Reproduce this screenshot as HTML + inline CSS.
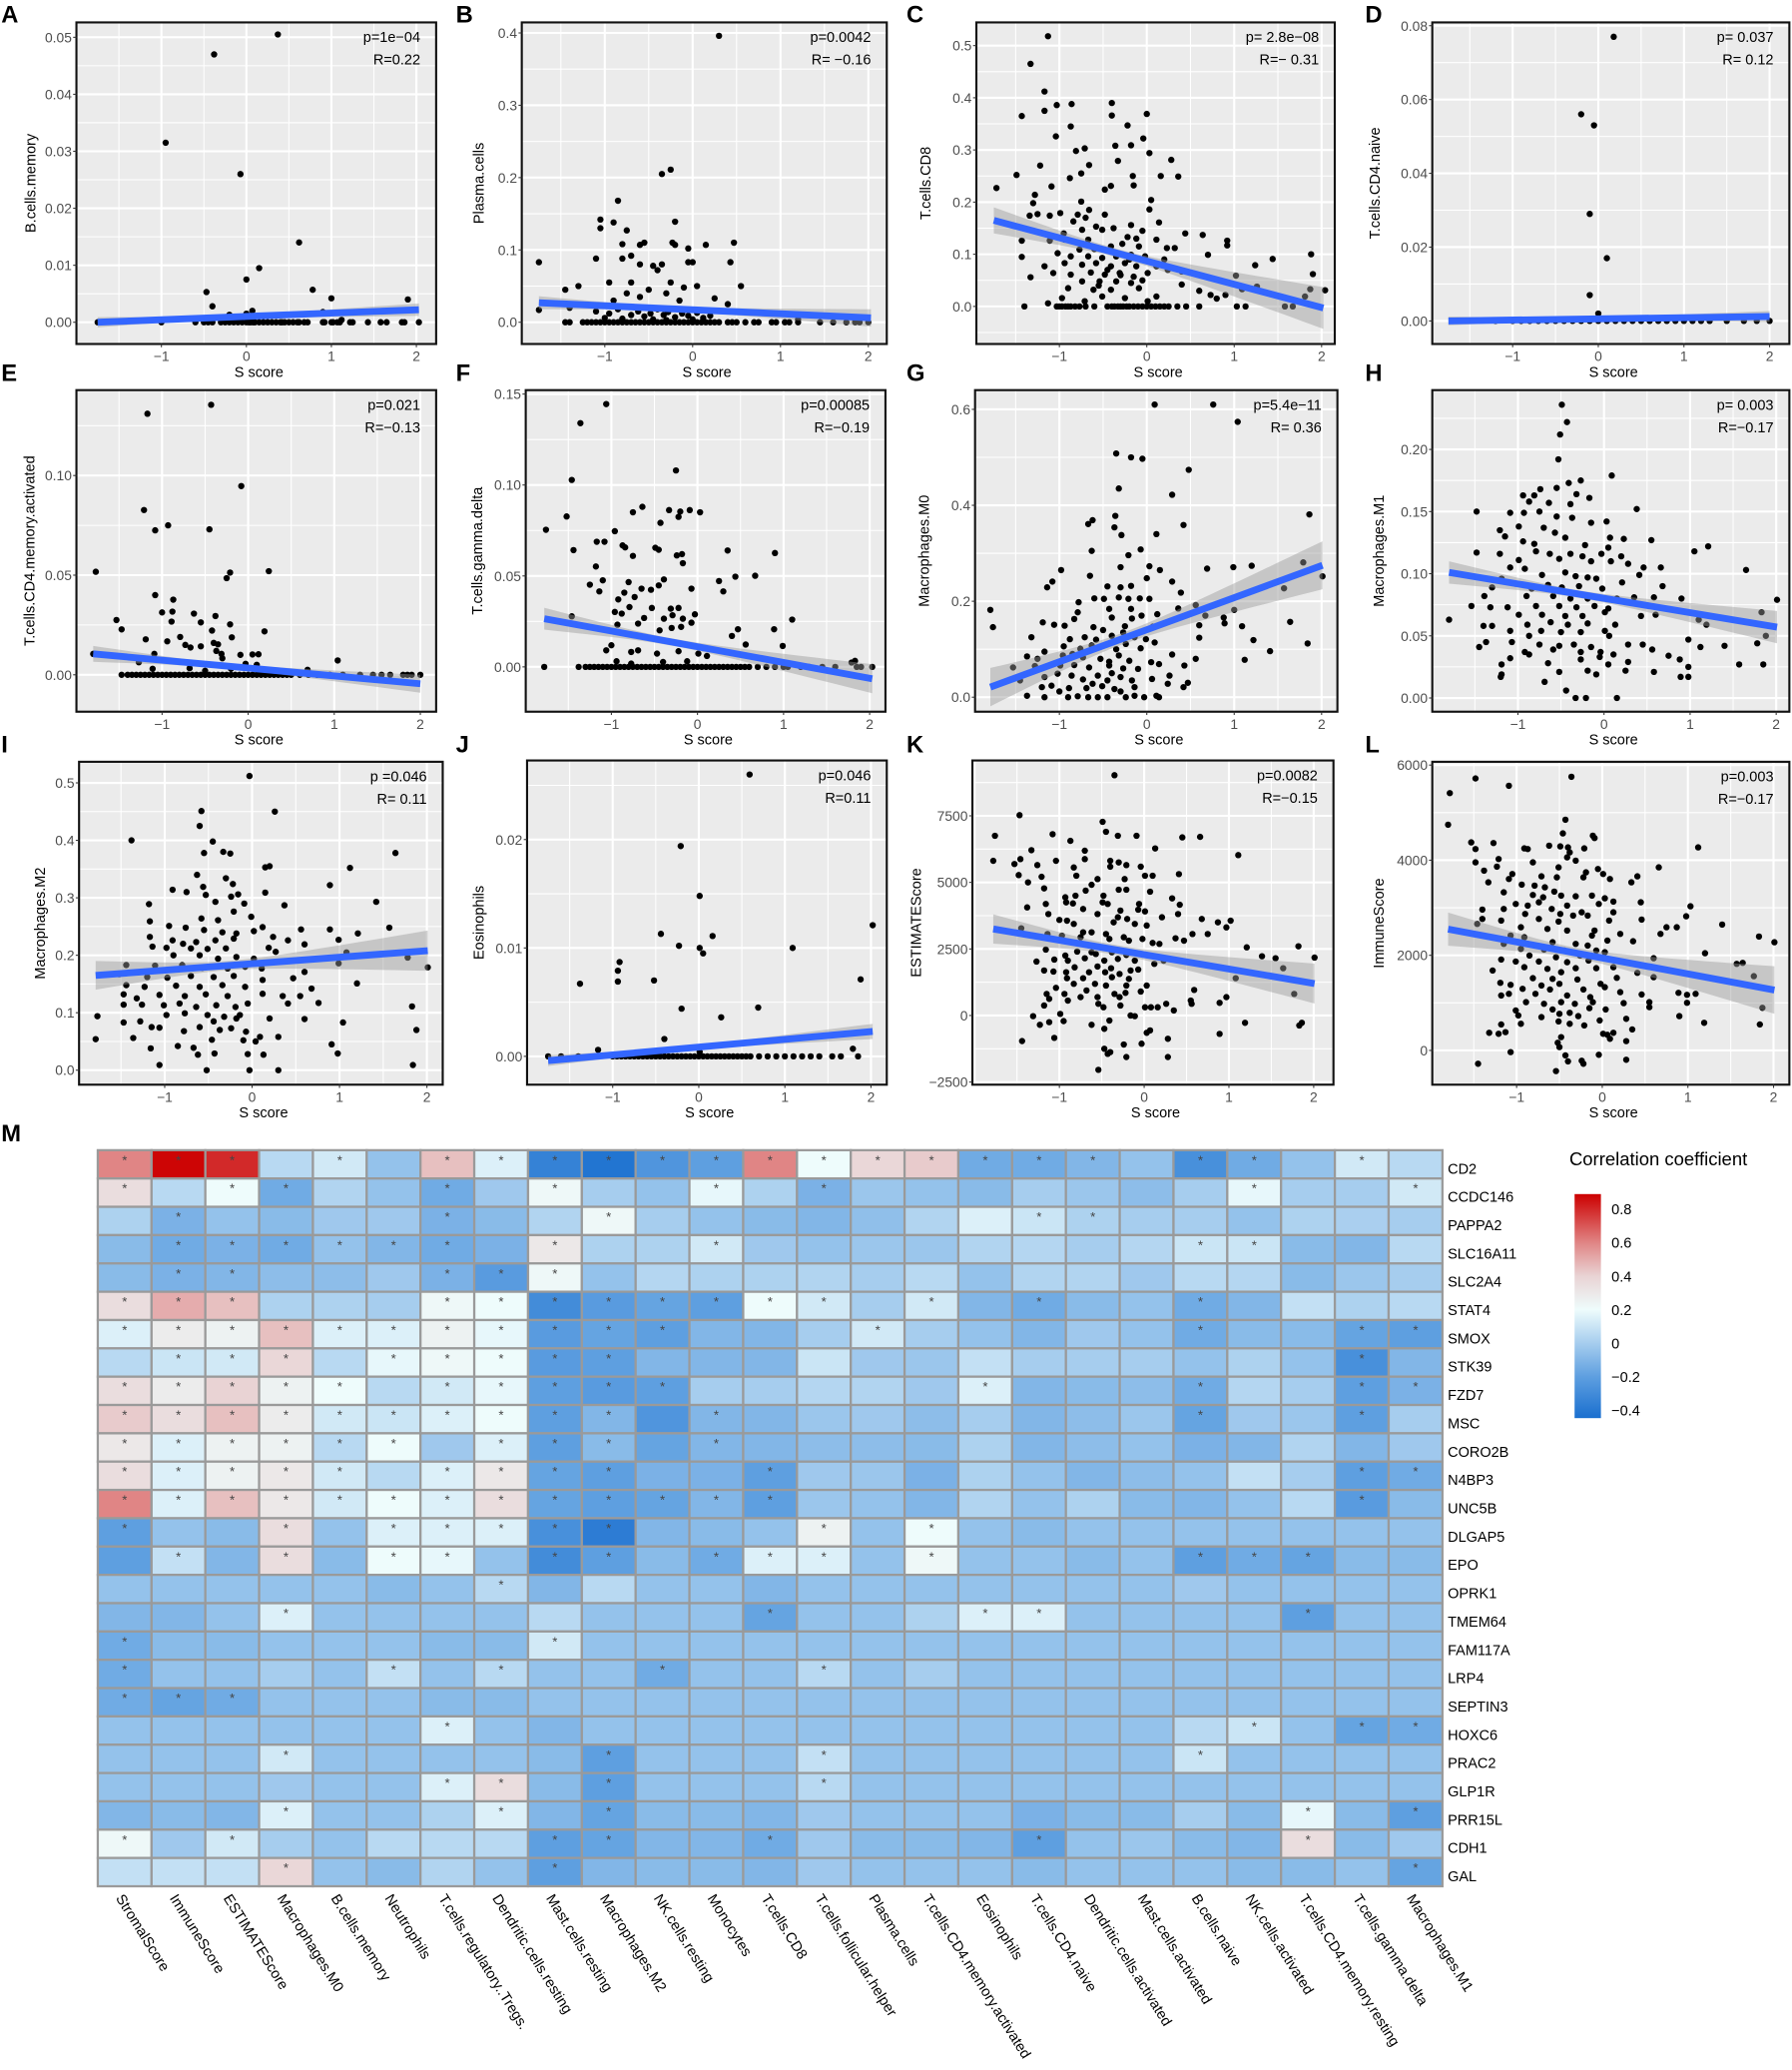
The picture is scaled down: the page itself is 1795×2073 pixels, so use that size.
<!DOCTYPE html>
<html><head><meta charset="utf-8">
<style>
html,body{margin:0;padding:0;background:#fff;}
svg{display:block;font-family:"Liberation Sans",Arial,sans-serif;}
</style></head>
<body>
<svg id="fig" xmlns="http://www.w3.org/2000/svg" width="1795" height="2073" viewBox="0 0 1360 1570.6" preserveAspectRatio="none"></svg>
<script>
// ---------------- DATA ----------------
const xTickVals=[-1,0,1,2];
const xTickLabels=['\u22121','0','1','2'];

const aTicks=[0,0.01,0.02,0.03,0.04,0.05];
const aTickLabels=['0.00','0.01','0.02','0.03','0.04','0.05'];
const aPts=[[-0.95,0.0315],[-0.38,0.047],[0.37,0.0505],[-0.07,0.026],[0.62,0.014],[0.15,0.0095],[0,0.0075],[-0.47,0.0053],[0.78,0.0057],[1.0,0.0042],[1.9,0.004],[-0.4,0.0028],[0.07,0.002],[-0.2,0.0013],[0,0.0015],[0.9,0.0018],[1.12,0.0004]];
const aZeros=[-1.75,-1.0,-0.6,-0.5,-0.45,-0.4,-0.3,-0.25,-0.2,-0.15,-0.1,-0.05,0,0.03,0.05,0.08,0.1,0.15,0.2,0.25,0.3,0.35,0.4,0.42,0.45,0.5,0.55,0.6,0.62,0.68,0.72,0.9,0.92,1.0,1.02,1.07,1.1,1.22,1.25,1.43,1.58,1.65,1.83,1.86,2.03];
const aFit=[-1.75,0,2.03,0.0022];
const aCI=[0.0009,0.0003,0.0011];

const bTicks=[0,0.1,0.2,0.3,0.4];
const bTickLabels=['0.0','0.1','0.2','0.3','0.4'];
const bPts=[[0.3,0.396],[-0.25,0.211],[-0.35,0.205],[-0.85,0.168],[-1.05,0.142],[-1.05,0.13],[-0.9,0.138],[-0.75,0.127],[-0.2,0.139],[-0.8,0.108],[-0.6,0.107],[-0.55,0.11],[-0.23,0.11],[-0.2,0.107],[-0.05,0.102],[0.15,0.107],[0.47,0.11],[-1.1,0.088],[-0.8,0.088],[-0.7,0.092],[-0.6,0.08],[-0.45,0.078],[-0.4,0.072],[-0.35,0.08],[-0.05,0.083],[0,0.083],[0.43,0.083],[-1.75,0.083],[-1.45,0.045],[-1.3,0.05],[-0.95,0.055],[-0.7,0.055],[-0.5,0.045],[-0.25,0.055],[-0.1,0.048],[0.05,0.05],[0.55,0.05],[-0.75,0.04],[-0.9,0.03],[-0.6,0.035],[-0.3,0.04],[-0.15,0.03],[0.4,0.025],[0.25,0.033],[-1.4,0.02],[-1.75,0.017],[-1.1,0.015],[-0.95,0.012],[-0.85,0.018],[-0.7,0.01],[-0.62,0.015],[-0.55,0.008],[-0.48,0.012],[-0.4,0.018],[-0.33,0.01],[-0.28,0.014],[-0.2,0.007],[-0.12,0.012],[-0.05,0.009],[0.05,0.013],[0.12,0.006],[0.2,0.009],[-1.0,0.006],[-0.8,0.005],[-0.45,0.004],[-0.3,0.003],[0.0,0.004],[1.2,0.004],[1.85,0.004]];
const bZeros=[-1.45,-1.4,-1.25,-1.2,-1.15,-1.1,-1.05,-1.0,-0.95,-0.9,-0.85,-0.8,-0.75,-0.7,-0.65,-0.6,-0.55,-0.5,-0.45,-0.4,-0.35,-0.3,-0.25,-0.2,-0.15,-0.1,-0.05,0,0.05,0.1,0.15,0.2,0.25,0.3,0.4,0.45,0.5,0.6,0.7,0.75,0.9,0.95,1.05,1.1,1.2,1.45,1.6,1.75,1.85,1.9,2.0];
const bFit=[-1.75,0.027,2.03,0.006];
const bCI=[0.009,0.003,0.012];

const cTicks=[0,0.1,0.2,0.3,0.4,0.5];
const cTickLabels=['0.0','0.1','0.2','0.3','0.4','0.5'];
const cPts=[[-1.13,0.518],[-1.33,0.465],[-1.17,0.412],[-1.43,0.365],[-1.17,0.375],[-1.03,0.386],[-0.86,0.388],[-0.4,0.39],[-0.4,0.366],[0,0.369],[-0.87,0.345],[-0.22,0.347],[-1.04,0.326],[-0.04,0.322],[-0.71,0.303],[-0.36,0.308],[-0.18,0.309],[-0.81,0.298],[0.03,0.294],[-0.33,0.279],[0.28,0.281],[-1.22,0.27],[-0.66,0.271],[-1.49,0.252],[-0.75,0.255],[-0.16,0.25],[0.16,0.25],[0.36,0.249],[-0.88,0.246],[-1.72,0.227],[-1.09,0.23],[-0.41,0.231],[-0.48,0.224],[-0.15,0.232],[-1.28,0.214],[-1.3,0.198],[-0.75,0.201],[0.05,0.204],[0.03,0.186],[-0.99,0.179],[-0.79,0.176],[-0.66,0.185],[-0.48,0.176],[-1.25,0.177],[-1.34,0.174],[-1.11,0.174],[-0.18,0.156],[0.14,0.161],[-0.84,0.163],[-0.58,0.153],[-0.74,0.147],[-0.51,0.147],[-0.38,0.15],[-0.05,0.145],[0.44,0.14],[0.64,0.137],[0.92,0.126],[-1.43,0.126],[-1.11,0.126],[-0.94,0.128],[-0.67,0.128],[-0.22,0.133],[0.11,0.128],[0.23,0.112],[0.32,0.112],[0.92,0.117],[-0.41,0.115],[-0.09,0.115],[-0.77,0.109],[-0.58,0.112],[-1.02,0.102],[-0.87,0.096],[-0.67,0.096],[-0.51,0.093],[-0.35,0.096],[-0.18,0.099],[-0.02,0.096],[0.7,0.099],[1.44,0.091],[1.88,0.1],[-1.43,0.095],[-0.94,0.083],[-0.74,0.08],[-0.58,0.083],[-0.41,0.077],[-0.25,0.083],[-0.12,0.077],[0.11,0.077],[1.24,0.079],[-1.17,0.077],[0.24,0.07],[-1.07,0.064],[-0.87,0.061],[-0.64,0.065],[-0.48,0.061],[-0.31,0.064],[-0.15,0.057],[0.01,0.064],[0.4,0.067],[1.02,0.059],[1.9,0.062],[-1.33,0.056],[-0.74,0.048],[-0.54,0.048],[-0.35,0.048],[-0.18,0.045],[0.4,0.042],[1.26,0.038],[-0.9,0.035],[-0.61,0.032],[-0.41,0.032],[-0.09,0.035],[0.6,0.03],[1.09,0.033],[2.04,0.031],[1.87,0.033],[0.73,0.022],[0.9,0.022],[1.81,0.019],[-0.97,0.016],[-0.51,0.019],[-0.25,0.016],[0.11,0.019],[0.8,0.015],[-1.13,0.006],[-0.71,0.01],[0.01,0.01],[-0.45,0.07],[-0.3,0.06],[-0.2,0.09],[-0.6,0.11],[-0.95,0.14],[-0.7,0.17],[-0.28,0.12],[-0.12,0.13],[-0.55,0.04],[-0.05,0.05],[0.2,0.09]];
const cZeros=[-1.4,-1.03,-1.0,-0.97,-0.93,-0.9,-0.87,-0.82,-0.77,-0.7,-0.6,-0.45,-0.4,-0.37,-0.33,-0.3,-0.27,-0.23,-0.2,-0.15,-0.1,-0.05,0,0.05,0.1,0.15,0.2,0.25,0.35,0.45,0.6,1.03,1.13,1.58,1.67];
const cFit=[-1.75,0.165,2.02,-0.003];
const cCI=[0.025,0.008,0.04];

const dTicks=[0,0.02,0.04,0.06,0.08];
const dTickLabels=['0.00','0.02','0.04','0.06','0.08'];
const dPts=[[0.18,0.077],[-0.2,0.056],[-0.05,0.053],[-0.1,0.029],[0.1,0.017],[-0.1,0.007],[0.0,0.002]];
const dZeros=[-1.7,-1.5,-1.2,-1.0,-0.9,-0.8,-0.7,-0.6,-0.5,-0.4,-0.3,-0.2,-0.1,0,0.1,0.2,0.3,0.4,0.5,0.6,0.7,0.8,0.9,1.0,1.1,1.2,1.3,1.5,1.7,1.85,2.0];
const dFit=[-1.75,0,2.0,0.0012];
const dCI=[0.0012,0.0004,0.0015];

const eTicks=[0,0.05,0.10];
const eTickLabels=['0.00','0.05','0.10'];
const ePts=[[-1.17,0.131],[-0.43,0.1355],[-0.08,0.0947],[-1.21,0.0827],[-0.93,0.075],[-1.08,0.0725],[-0.45,0.073],[-1.77,0.0517],[-0.21,0.0513],[0.24,0.052],[-0.25,0.0485],[-1.08,0.04],[-0.87,0.0377],[-1.0,0.0313],[-0.88,0.0317],[-0.63,0.0307],[-0.38,0.0295],[-1.53,0.0275],[-0.89,0.0267],[-0.55,0.0263],[-0.21,0.0253],[-1.47,0.0228],[-0.42,0.0222],[0.19,0.0218],[-1.19,0.0178],[-0.79,0.019],[-0.19,0.0188],[-0.94,0.0168],[-0.73,0.015],[-0.4,0.016],[-0.35,0.0153],[-0.55,0.0143],[-0.67,0.0137],[-0.37,0.012],[-1.09,0.0105],[-0.31,0.0105],[-0.09,0.01],[0.05,0.0102],[0.12,0.0103],[1.04,0.0072],[-1.27,0.0063],[-1.8,0.0105],[-0.3,0.0083],[-0.03,0.0055],[0.1,0.005],[-0.68,0.0033],[-1.11,0.003],[0.69,0.0025],[-0.5,0.002],[-0.2,0.003]];
const eZeros=[-1.47,-1.4,-1.35,-1.3,-1.25,-1.2,-1.15,-1.1,-1.05,-1.0,-0.95,-0.9,-0.85,-0.8,-0.75,-0.7,-0.65,-0.6,-0.55,-0.5,-0.45,-0.4,-0.35,-0.3,-0.25,-0.2,-0.15,-0.1,-0.05,0,0.05,0.1,0.15,0.2,0.25,0.3,0.35,0.4,0.45,0.5,0.6,0.7,0.8,0.95,1.1,1.3,1.45,1.55,1.65,1.8,1.85,1.9,2.0];
const eFit=[-1.8,0.0105,2.0,-0.0045];
const eCI=[0.004,0.0012,0.0045];

const fTicks=[0,0.05,0.10,0.15];
const fTickLabels=['0.00','0.05','0.10','0.15'];
const fPts=[[-1.06,0.1445],[-1.36,0.134],[-1.46,0.1028],[-0.25,0.108],[-1.76,0.0754],[-1.52,0.0827],[-0.96,0.0746],[-1.44,0.0642],[-1.17,0.0688],[-1.08,0.0688],[-0.87,0.0668],[-0.84,0.0657],[-0.75,0.085],[-0.64,0.088],[-0.75,0.061],[-0.49,0.0655],[-0.45,0.0644],[-0.33,0.0862],[-0.43,0.0792],[-0.22,0.0825],[-0.2,0.0854],[-0.09,0.0862],[0.03,0.085],[-0.24,0.0613],[-0.18,0.062],[-0.17,0.057],[0.35,0.064],[0.9,0.0626],[0.67,0.0501],[0.44,0.0496],[0.25,0.0472],[0.3,0.0415],[-1.18,0.0552],[-1.25,0.0452],[-1.14,0.0415],[-1.1,0.0476],[-0.8,0.0466],[-0.92,0.0371],[-0.85,0.0408],[-0.73,0.0384],[-0.65,0.043],[-0.54,0.0424],[-0.45,0.0448],[-0.39,0.0481],[-0.07,0.043],[-0.79,0.0329],[-0.53,0.0324],[-0.31,0.032],[-0.22,0.0324],[-0.96,0.0302],[-0.88,0.0293],[-0.62,0.0269],[-0.39,0.0265],[-0.29,0.0284],[-0.17,0.0265],[-0.03,0.0289],[-1.46,0.0278],[-0.93,0.0232],[-0.69,0.0238],[-0.44,0.0201],[-0.3,0.0214],[-0.19,0.022],[-0.07,0.0243],[0.47,0.0207],[0.4,0.017],[0.89,0.0207],[1.1,0.026],[0.56,0.0123],[0.99,0.0115],[-1.0,0.0119],[-1.06,0.0091],[-0.77,0.0082],[-0.69,0.0091],[-0.47,0.0073],[-0.22,0.0086],[0.01,0.0073],[0.11,0.006],[-0.94,0.0031],[-0.77,0.0018],[-0.4,0.0027],[-0.12,0.0031],[1.83,0.0033],[1.79,0.0024]];
const fZeros=[-1.78,-1.38,-1.3,-1.25,-1.2,-1.15,-1.1,-1.05,-1.0,-0.95,-0.9,-0.85,-0.8,-0.75,-0.7,-0.65,-0.6,-0.55,-0.5,-0.45,-0.4,-0.35,-0.3,-0.25,-0.2,-0.15,-0.1,-0.05,0,0.05,0.1,0.15,0.2,0.25,0.3,0.35,0.4,0.45,0.5,0.55,0.6,0.7,0.8,0.9,1.0,1.05,1.2,1.3,1.45,1.6,1.85,1.9,2.03];
const fFit=[-1.78,0.0265,2.03,-0.0065];
const fCI=[0.006,0.002,0.008];

const gTicks=[0,0.2,0.4,0.6];
const gTickLabels=['0.0','0.2','0.4','0.6'];
const gPts=[[0.09,0.61],[0.76,0.61],[1.04,0.574],[-0.35,0.508],[-0.18,0.5],[-0.05,0.497],[0.48,0.474],[-0.32,0.435],[0.29,0.422],[1.86,0.381],[-0.36,0.378],[-0.62,0.369],[-0.67,0.361],[-0.37,0.354],[0.42,0.359],[0.11,0.34],[-0.29,0.338],[-0.63,0.305],[-0.07,0.308],[-0.21,0.296],[-0.98,0.265],[-0.3,0.271],[0.03,0.273],[0.15,0.265],[0.69,0.268],[0.99,0.271],[1.2,0.274],[1.79,0.281],[2.01,0.252],[-1.08,0.241],[-0.65,0.253],[0,0.248],[0.29,0.241],[-1.14,0.229],[-0.45,0.231],[-0.3,0.229],[-0.18,0.232],[0.39,0.218],[1.57,0.227],[-0.6,0.206],[-0.49,0.205],[-0.32,0.208],[-0.21,0.205],[-0.08,0.206],[0.03,0.205],[-0.78,0.198],[0.36,0.185],[0.56,0.192],[-1.79,0.182],[-0.43,0.184],[-0.18,0.184],[1.0,0.182],[-0.79,0.177],[0.12,0.173],[-0.06,0.17],[0.67,0.17],[0.88,0.166],[-0.83,0.163],[-0.4,0.166],[-0.17,0.164],[-1.19,0.156],[-1.06,0.151],[-0.94,0.149],[0.89,0.154],[1.64,0.157],[-1.76,0.146],[-0.61,0.146],[-0.25,0.148],[0.07,0.147],[0.6,0.15],[1.09,0.148],[-0.27,0.135],[-1.32,0.125],[-0.71,0.125],[-0.88,0.121],[-0.4,0.128],[-0.14,0.125],[-0.01,0.121],[0.6,0.124],[1.22,0.119],[1.84,0.112],[-1.17,0.095],[-0.95,0.106],[-0.76,0.101],[-0.63,0.108],[-0.24,0.111],[-0.07,0.102],[0.09,0.114],[0.29,0.089],[1.41,0.096],[-1.37,0.085],[-1.25,0.08],[-0.96,0.087],[-0.73,0.083],[-0.53,0.08],[-0.43,0.074],[-0.32,0.087],[-0.2,0.076],[0.05,0.073],[0.56,0.08],[1.12,0.078],[-1.53,0.062],[-1.28,0.065],[-0.99,0.066],[-0.83,0.067],[-0.66,0.062],[-0.43,0.066],[-0.27,0.06],[-0.1,0.059],[0.14,0.069],[0.43,0.066],[-1.45,0.035],[-1.17,0.042],[-1.02,0.049],[-0.86,0.045],[-0.73,0.037],[-0.56,0.045],[-0.45,0.035],[-0.3,0.042],[-0.17,0.035],[0.06,0.038],[0.26,0.045],[0.47,0.03],[-1.2,0.021],[-1.09,0.024],[-0.89,0.019],[-0.69,0.019],[-0.51,0.023],[-0.37,0.017],[-0.14,0.021],[0.24,0.028],[0.42,0.021],[-1.37,0.003],[-1.17,0],[-0.9,0],[-0.79,0.002],[-0.67,0],[-0.56,0],[-0.45,0],[-0.24,0],[-0.14,0.003],[-0.03,0],[0.11,0.003],[0.14,0],[-0.58,0.12],[-0.35,0.1],[-0.5,0.14],[-0.85,0.09],[-0.4,0.05],[-0.62,0.028],[-0.3,0.012],[-1.0,0.012]];
const gZeros=[];
const gFit=[-1.79,0.021,2.01,0.275];
const gCI=[0.04,0.012,0.05];

const hTicks=[0,0.05,0.10,0.15,0.20];
const hTickLabels=['0.00','0.05','0.10','0.15','0.20'];
const hPts=[[-0.49,0.236],[-0.43,0.222],[-0.51,0.212],[-0.53,0.192],[0.09,0.179],[-0.27,0.175],[-0.41,0.173],[-0.55,0.169],[-0.74,0.168],[-0.94,0.163],[-0.81,0.163],[-0.32,0.164],[-0.17,0.161],[-0.87,0.158],[-0.64,0.157],[-0.39,0.156],[-1.48,0.15],[0.38,0.152],[-0.93,0.149],[-0.75,0.15],[-1.09,0.149],[-0.55,0.146],[-0.37,0.145],[-0.15,0.141],[0.03,0.142],[-0.99,0.138],[-0.7,0.137],[-1.21,0.135],[-0.57,0.133],[-1.15,0.13],[-0.45,0.129],[0.07,0.129],[0.23,0.128],[0.55,0.127],[1.21,0.122],[-0.94,0.126],[-0.81,0.124],[-0.22,0.123],[0.05,0.121],[-1.48,0.117],[-1.21,0.116],[-0.79,0.118],[-0.63,0.116],[-0.39,0.116],[-0.25,0.114],[-0.03,0.116],[0.2,0.114],[1.05,0.118],[-0.99,0.111],[-0.52,0.112],[-0.15,0.11],[0.08,0.11],[0.28,0.108],[0.66,0.105],[0.46,0.105],[1.65,0.103],[-1.09,0.105],[-0.92,0.104],[-0.72,0.099],[-0.45,0.101],[-0.33,0.098],[-0.19,0.097],[-0.09,0.096],[0.41,0.099],[-1.19,0.096],[-1.3,0.089],[-1.03,0.092],[-0.84,0.088],[-0.65,0.091],[-0.49,0.089],[-0.29,0.09],[-0.02,0.088],[0.21,0.093],[0.68,0.09],[-1.39,0.082],[-0.9,0.082],[-0.59,0.082],[-0.39,0.08],[-0.19,0.08],[0.15,0.08],[0.35,0.081],[0.58,0.081],[0.9,0.08],[2.01,0.079],[-1.54,0.074],[-1.32,0.073],[-1.12,0.073],[-0.79,0.074],[-0.52,0.074],[-0.32,0.073],[-0.11,0.074],[0.05,0.072],[-0.99,0.067],[-0.72,0.067],[-0.45,0.066],[-0.25,0.066],[0.01,0.069],[0.43,0.066],[0.6,0.067],[1.83,0.069],[-1.8,0.063],[-0.89,0.059],[-0.62,0.061],[-0.42,0.059],[-0.19,0.06],[0.13,0.059],[1.1,0.063],[1.19,0.059],[-1.4,0.058],[-1.3,0.058],[-1.09,0.054],[-0.73,0.054],[-0.5,0.053],[-0.27,0.053],[0.01,0.054],[0.06,0.05],[1.88,0.05],[-0.87,0.05],[0.98,0.047],[-1.37,0.045],[-1.07,0.045],[-0.75,0.043],[-0.52,0.042],[-0.35,0.043],[-0.15,0.041],[0.28,0.043],[0.45,0.043],[1.4,0.042],[1.12,0.041],[1.78,0.044],[-1.45,0.041],[-0.92,0.037],[-0.59,0.039],[-0.27,0.037],[-0.04,0.037],[0.11,0.035],[0.56,0.039],[-1.09,0.032],[-0.87,0.035],[-0.27,0.031],[-0.05,0.033],[0.75,0.034],[0.88,0.031],[-1.19,0.027],[-0.65,0.028],[0.05,0.027],[0.28,0.029],[0.98,0.025],[1.57,0.027],[1.85,0.027],[-1.19,0.019],[-0.52,0.021],[-0.19,0.022],[-0.09,0.019],[0.25,0.022],[0.58,0.021],[0.89,0.017],[0.98,0.017],[-1.2,0.017],[-0.69,0.013],[-0.44,0.006],[-0.33,0],[-0.21,0],[0.15,0]];
const hZeros=[];
const hFit=[-1.8,0.101,2.01,0.057];
const hCI=[0.009,0.003,0.013];

const iTicks=[0,0.1,0.2,0.3,0.4,0.5];
const iTickLabels=['0.0','0.1','0.2','0.3','0.4','0.5'];
const iPts=[[-0.03,0.512],[-0.58,0.451],[0.26,0.45],[-0.6,0.425],[-1.38,0.4],[-0.45,0.398],[-0.55,0.378],[-0.33,0.38],[-0.25,0.377],[1.64,0.378],[0.15,0.353],[0.2,0.355],[1.12,0.352],[-0.63,0.34],[-0.3,0.334],[-0.22,0.324],[0.89,0.322],[-0.56,0.319],[-0.91,0.314],[-0.75,0.31],[0.15,0.309],[-0.16,0.306],[-0.53,0.305],[-0.24,0.302],[-0.42,0.293],[1.42,0.293],[-1.18,0.289],[-0.09,0.29],[0.37,0.287],[-0.21,0.276],[-0.01,0.267],[-0.58,0.264],[-0.39,0.261],[-1.17,0.259],[-0.95,0.251],[0.12,0.249],[-0.76,0.248],[0.56,0.245],[0.89,0.245],[1.57,0.248],[-0.55,0.244],[-0.34,0.24],[-0.18,0.238],[0.02,0.242],[1.21,0.238],[-1.17,0.232],[-0.91,0.226],[-0.79,0.22],[-0.64,0.223],[-0.42,0.226],[-0.21,0.229],[0.24,0.232],[0.41,0.226],[0.99,0.227],[-1.14,0.215],[-0.98,0.213],[-0.7,0.212],[-0.51,0.211],[-0.3,0.212],[0.19,0.213],[0.6,0.219],[1.08,0.205],[-0.9,0.2],[-0.6,0.2],[-0.39,0.194],[-0.18,0.197],[0.02,0.194],[0.27,0.206],[1.78,0.196],[-1.44,0.183],[-1.11,0.182],[-0.8,0.183],[-0.57,0.178],[-0.28,0.177],[-0.08,0.18],[0.11,0.177],[0.6,0.171],[0.99,0.186],[2.01,0.179],[-1.52,0.167],[-1.2,0.162],[-0.97,0.161],[-0.7,0.164],[-0.44,0.162],[-0.21,0.164],[0.12,0.157],[0.47,0.16],[-1.44,0.148],[-1.23,0.145],[-0.87,0.147],[-0.6,0.145],[-0.34,0.148],[-0.08,0.145],[1.2,0.151],[0.68,0.142],[-1.47,0.132],[-1.06,0.131],[-0.77,0.129],[-0.53,0.132],[-0.28,0.129],[0.12,0.133],[0.35,0.129],[0.55,0.129],[-1.32,0.125],[0.76,0.117],[-1.47,0.114],[-1.26,0.114],[-1.01,0.113],[-0.83,0.116],[-0.64,0.11],[-0.41,0.113],[-0.19,0.11],[-0.05,0.116],[0.41,0.116],[1.83,0.111],[-0.98,0.096],[-0.77,0.099],[-0.51,0.096],[-0.32,0.093],[-0.14,0.096],[-1.77,0.094],[-1.28,0.085],[-1.47,0.083],[-0.44,0.085],[-0.18,0.09],[0.2,0.09],[0.6,0.089],[1.04,0.083],[-1.15,0.075],[-1.06,0.074],[-0.6,0.075],[-0.37,0.07],[-0.24,0.073],[-0.78,0.068],[1.88,0.07],[-0.07,0.067],[-1.79,0.054],[-1.36,0.056],[-0.46,0.053],[-0.1,0.052],[0.09,0.058],[0.04,0.05],[0.3,0.058],[0.91,0.045],[-0.85,0.042],[-0.67,0.039],[-1.16,0.038],[-0.62,0.027],[-0.43,0.029],[-0.05,0.028],[0.13,0.027],[0.98,0.029],[-1.06,0.009],[-0.52,0],[-0.03,0],[0.3,0],[1.84,0.009]];
const iZeros=[];
const iFit=[-1.79,0.165,2.01,0.208];
const iCI=[0.025,0.008,0.035];

const jTicks=[0,0.01,0.02];
const jTickLabels=['0.00','0.01','0.02'];
const jPts=[[0.59,0.026],[-0.21,0.0194],[0.01,0.0148],[-0.44,0.0113],[0.16,0.0111],[-0.23,0.0102],[0.01,0.01],[0.05,0.0095],[1.09,0.01],[2.02,0.0121],[-0.92,0.0087],[-0.94,0.0079],[-0.94,0.0069],[-1.38,0.0067],[-0.52,0.007],[1.88,0.0071],[-0.2,0.0044],[0.69,0.0045],[0.26,0.0036],[-0.4,0.0016],[-1.17,0.0006],[0.01,0.0004],[1.79,0.0007]];
const jZeros=[-1.75,-1.6,-1.4,-1.2,-1.0,-0.95,-0.9,-0.85,-0.8,-0.75,-0.7,-0.65,-0.6,-0.55,-0.5,-0.45,-0.4,-0.35,-0.3,-0.25,-0.2,-0.15,-0.1,-0.05,0,0.05,0.1,0.15,0.2,0.25,0.3,0.35,0.4,0.45,0.5,0.55,0.6,0.7,0.8,0.9,1.0,1.1,1.2,1.3,1.4,1.55,1.65,1.85];
const jFit=[-1.75,-0.0004,2.02,0.0023];
const jCI=[0.0005,0.00015,0.0007];

const kTicks=[-2500,0,2500,5000,7500];
const kTickLabels=['\u22122500','0','2500','5000','7500'];
const kPts=[[-0.35,9025],[-1.47,7525],[-0.49,7275],[-1.76,6750],[-1.08,6810],[-0.45,6900],[-0.31,6750],[-0.09,6750],[0.45,6690],[0.66,6710],[-0.87,6560],[0.13,6275],[-1.33,6210],[-0.7,6190],[1.11,6025],[-1.78,5810],[-1.46,5875],[-1.04,5810],[-0.7,5875],[-0.4,5810],[-0.3,5750],[-1.53,5690],[-1.26,5650],[-0.21,5650],[-0.04,5590],[-0.83,5560],[-0.4,5590],[-1.48,5275],[-1.21,5210],[-0.8,5250],[0.01,5250],[0.1,5250],[0.41,5310],[-0.55,5125],[-0.23,5125],[-1.37,5000],[-0.62,4910],[-1.18,4775],[-0.3,4725],[-0.21,4725],[0.07,4650],[-0.69,4690],[-0.93,4440],[-0.81,4500],[-0.48,4500],[0.33,4400],[-0.92,4250],[-1.16,4190],[-0.84,4210],[-0.49,4250],[-0.43,4190],[-0.06,4190],[0.42,4160],[-1.38,4060],[-0.72,4000],[-0.28,3940],[-0.07,3975],[0.01,3910],[-1.13,3810],[-0.55,3810],[0.4,3810],[-0.31,3690],[-0.2,3625],[-1.0,3590],[-0.91,3560],[0.21,3690],[0.68,3625],[0.87,3500],[1.02,3560],[0.97,3310],[-0.83,3440],[-0.36,3500],[-0.11,3440],[0.03,3380],[-1.45,3275],[-1.14,3060],[-0.72,3125],[-0.62,3125],[-0.45,3060],[0.57,3060],[0.75,3060],[-0.75,2940],[-0.97,3000],[-0.41,2875],[-0.24,2940],[-0.02,2875],[0.37,2900],[-0.18,2810],[0.18,2690],[0.1,2725],[0.47,2810],[1.21,2560],[1.82,2600],[-1.16,2475],[-0.79,2400],[-0.62,2375],[-0.57,2310],[-0.38,2375],[-0.21,2275],[1.39,2225],[1.55,2150],[2.01,2175],[-0.93,2250],[-1.27,2025],[-1.06,2100],[-0.9,2060],[-0.7,2150],[-0.47,2060],[-0.31,2125],[-0.11,2060],[0.23,2060],[0.12,1940],[-0.82,1810],[-0.55,1840],[-0.39,1775],[-1.18,1690],[-1.07,1650],[-0.92,1625],[-0.65,1625],[-0.46,1625],[-0.29,1560],[-0.16,1690],[-0.07,1725],[1.64,1775],[-0.91,1400],[-0.72,1400],[-0.38,1440],[-0.18,1375],[1.08,1400],[-0.83,1190],[-0.58,1190],[-0.45,1125],[-0.21,1125],[0.03,1125],[0.59,960],[-1.04,1040],[-0.94,810],[-0.68,940],[-0.35,810],[-0.22,850],[-0.04,900],[-1.15,810],[1.77,810],[-1.12,625],[-0.9,560],[-0.75,690],[-0.55,690],[-0.29,690],[0.97,690],[0.55,560],[0.56,440],[0.89,475],[-1.18,375],[-0.54,440],[-0.48,310],[-0.28,375],[0.01,310],[0.08,310],[0.16,310],[0.26,440],[0.35,190],[-0.99,60],[-1.31,-25],[-0.16,0],[-0.11,-25],[-0.41,-190],[-0.95,-210],[-1.12,-250],[-1.23,-350],[-0.62,-350],[1.19,-275],[1.86,-275],[1.83,-375],[-0.47,-500],[0.07,-560],[0.03,-650],[0.89,-690],[-1.06,-840],[0.28,-875],[-1.44,-960],[-0.03,-1060],[-0.24,-1090],[-0.47,-1250],[-0.4,-1375],[-0.43,-1440],[-0.21,-1560],[0.28,-1560],[-0.54,-2040]];
const kZeros=[];
const kFit=[-1.78,3250,2.01,1200];
const kCI=[550,180,750];

const lTicks=[0,2000,4000,6000];
const lTickLabels=['0','2000','4000','6000'];
const lPts=[[-0.36,5754],[-1.48,5719],[-1.09,5565],[-1.78,5411],[-1.8,4746],[-0.43,4851],[-0.46,4564],[-0.11,4515],[-0.09,4466],[-1.53,4375],[-1.27,4361],[-0.62,4305],[-0.49,4291],[-0.4,4270],[1.12,4270],[-0.91,4249],[-0.87,4235],[-0.21,4249],[-1.48,4235],[-0.38,4165],[-0.41,4060],[-1.21,4025],[-0.31,3990],[-1.48,3955],[-0.81,3955],[-1.23,3864],[0.66,3850],[-0.51,3850],[-1.38,3780],[-0.05,3815],[-0.19,3745],[0.01,3710],[-1.05,3710],[-0.71,3661],[0.41,3661],[-1.09,3605],[-0.22,3640],[-0.53,3640],[0.09,3605],[-1.33,3535],[0.34,3535],[-0.94,3486],[-0.79,3465],[-0.67,3430],[-1.15,3325],[-0.56,3339],[-0.81,3269],[-0.69,3220],[-0.48,3255],[-0.31,3241],[-0.12,3255],[0.03,3199],[-1.01,3080],[-0.87,3045],[-0.74,3115],[-0.41,3045],[-0.04,3080],[0.13,3129],[0.45,3115],[1.03,3031],[-1.4,2961],[-1.15,2975],[-0.59,2975],[-0.24,2905],[0.13,2905],[-0.9,2870],[-0.49,2870],[-0.34,2835],[-0.17,2835],[-1.4,2765],[-0.74,2765],[-1.18,2730],[0.98,2821],[-1.46,2660],[-0.51,2709],[0.08,2730],[0.46,2751],[0.87,2590],[0.75,2590],[1.4,2646],[-0.95,2590],[-0.64,2555],[-0.41,2520],[-0.09,2520],[0.21,2450],[0.68,2450],[-1.07,2415],[-0.91,2380],[-0.12,2415],[1.83,2394],[0.06,2310],[0.36,2296],[2.01,2275],[-1.15,2240],[-0.58,2275],[-0.31,2240],[-0.17,2205],[-0.95,2135],[-0.68,2121],[-0.44,2100],[-0.07,2100],[0.03,2065],[1.2,2044],[-0.85,1995],[-0.54,1960],[-0.26,1995],[-1.18,1911],[-1.01,1869],[-0.74,1869],[-0.41,1855],[-0.16,1890],[0.6,1939],[-1.28,1680],[-0.91,1750],[-0.64,1715],[-0.48,1645],[-0.31,1729],[-0.07,1729],[0.13,1750],[1.57,1820],[1.64,1841],[0.41,1631],[0.6,1540],[1.77,1561],[-0.81,1519],[-0.58,1505],[-0.29,1491],[0.17,1526],[-1.19,1421],[-1.07,1379],[-0.71,1365],[-0.5,1400],[-0.02,1400],[0.03,1330],[-0.93,1295],[-0.61,1281],[-0.22,1281],[0.21,1225],[-1.18,1155],[-1.09,1190],[-0.78,1190],[-0.41,1155],[-0.14,1120],[0.46,1176],[0.89,1211],[0.99,1169],[1.09,1190],[-0.89,1015],[-0.68,980],[-0.48,1015],[-0.32,980],[-0.11,1015],[0.25,994],[0.55,1015],[0.99,1001],[0.55,910],[1.87,896],[-1.01,840],[-0.58,861],[-0.38,791],[-0.15,889],[0.04,861],[-0.98,735],[-0.71,700],[-0.5,770],[-0.28,721],[0.9,721],[-0.03,630],[0.28,665],[-0.95,560],[-1.18,546],[-0.51,609],[-0.38,560],[-0.21,525],[1.19,581],[1.84,546],[0.35,441],[-1.32,371],[-1.21,350],[-1.13,385],[0.01,350],[0.06,329],[0.13,371],[-0.48,280],[0.09,245],[0.28,196],[-0.52,161],[-0.5,70],[-1.07,-35],[-0.04,-91],[-0.43,-105],[0.28,-196],[-0.4,-231],[-0.24,-217],[-0.22,-280],[-1.45,-280],[-0.54,-434]];
const lZeros=[];
const lFit=[-1.8,2550,2.01,1270];
const lCI=[350,110,500];

// heatmap data
const hmCols=['StromalScore','ImmuneScore','ESTIMATEScore','Macrophages.M0','B.cells.memory','Neutrophils','T.cells.regulatory..Tregs.','Dendritic.cells.resting','Mast.cells.resting','Macrophages.M2','NK.cells.resting','Monocytes','T.cells.CD8','T.cells.follicular.helper','Plasma.cells','T.cells.CD4.memory.activated','Eosinophils','T.cells.CD4.naive','Dendritic.cells.activated','Mast.cells.activated','B.cells.naive','NK.cells.activated','T.cells.CD4.memory.resting','T.cells.gamma.delta','Macrophages.M1'];
const hmRows=['CD2','CCDC146','PAPPA2','SLC16A11','SLC2A4','STAT4','SMOX','STK39','FZD7','MSC','CORO2B','N4BP3','UNC5B','DLGAP5','EPO','OPRK1','TMEM64','FAM117A','LRP4','SEPTIN3','HOXC6','PRAC2','GLP1R','PRR15L','CDH1','GAL'];
const hmVals=[
[0.6,0.88,0.8,0.05,0.12,-0.05,0.45,0.15,-0.35,-0.42,-0.25,-0.2,0.6,0.2,0.38,0.42,-0.15,-0.15,-0.1,-0.05,-0.28,-0.15,-0.05,0.12,0.05],
[0.35,0.05,0.2,-0.15,0.03,-0.05,-0.15,-0.02,0.22,0.0,-0.05,0.18,0.02,-0.12,-0.03,-0.05,-0.08,0.0,-0.03,-0.07,0.0,0.18,0.0,0.0,0.12],
[0.02,-0.12,-0.05,-0.08,-0.02,-0.02,-0.12,-0.08,0.03,0.22,0.0,-0.05,-0.08,-0.1,-0.06,0.03,0.15,0.1,0.02,0.0,0.0,-0.05,0.02,0.01,0.0],
[-0.08,-0.15,-0.12,-0.15,-0.05,-0.1,-0.15,-0.12,0.3,0.02,0.02,0.12,-0.02,-0.05,-0.03,-0.03,0.03,0.04,0.0,0.04,0.1,0.1,-0.08,-0.1,0.05],
[-0.08,-0.12,-0.1,-0.07,-0.07,-0.02,-0.12,-0.22,0.22,-0.05,0.04,0.02,0.02,0.03,0.0,0.05,-0.05,0.03,0.03,-0.02,0.05,0.04,-0.08,-0.03,0.0],
[0.35,0.5,0.45,0.02,0.02,0.0,0.22,0.2,-0.3,-0.22,-0.18,-0.2,0.2,0.12,0.0,0.12,-0.1,-0.15,-0.08,-0.05,-0.15,-0.1,0.08,0.02,0.05],
[0.15,0.28,0.25,0.45,0.15,0.15,0.25,0.18,-0.22,-0.18,-0.2,-0.1,-0.1,0.0,0.12,0.0,-0.05,-0.1,-0.02,-0.05,-0.15,-0.08,-0.08,-0.18,-0.2],
[0.05,0.1,0.12,0.38,0.05,0.18,0.22,0.2,-0.22,-0.2,-0.1,-0.1,-0.1,0.1,-0.02,-0.03,0.08,0.0,0.0,0.0,-0.05,0.02,-0.05,-0.28,-0.1],
[0.35,0.28,0.4,0.25,0.2,0.05,0.12,0.18,-0.2,-0.22,-0.2,0.0,0.0,0.04,0.03,-0.02,0.15,-0.1,-0.08,-0.07,-0.15,0.04,0.0,-0.2,-0.12],
[0.42,0.35,0.45,0.28,0.12,0.1,0.15,0.2,-0.2,-0.1,-0.25,-0.1,-0.1,-0.03,-0.02,-0.07,0.0,-0.1,-0.07,-0.03,-0.18,-0.02,-0.03,-0.2,0.0],
[0.3,0.15,0.25,0.25,0.05,0.2,-0.02,0.15,-0.2,-0.08,-0.18,-0.1,-0.1,-0.07,-0.07,-0.08,0.02,-0.1,-0.07,-0.05,-0.12,-0.1,0.03,-0.1,-0.02],
[0.35,0.15,0.25,0.3,0.12,0.05,0.15,0.3,-0.18,-0.2,-0.12,-0.12,-0.2,-0.02,-0.03,-0.12,0.02,-0.05,-0.1,-0.07,-0.05,0.08,0.0,-0.2,-0.15],
[0.6,0.15,0.45,0.3,0.12,0.2,0.15,0.35,-0.18,-0.2,-0.18,-0.1,-0.2,-0.03,-0.05,-0.1,0.03,-0.05,0.02,-0.08,-0.1,-0.05,0.05,-0.22,-0.08],
[-0.2,-0.05,-0.08,0.35,-0.05,0.15,0.15,0.15,-0.28,-0.38,-0.1,-0.08,-0.05,0.25,-0.05,0.2,-0.05,-0.08,-0.05,-0.05,-0.05,-0.05,-0.05,-0.05,-0.05],
[-0.2,0.08,-0.1,0.35,-0.08,0.2,0.18,-0.05,-0.3,-0.2,-0.08,-0.15,0.15,0.15,-0.05,0.22,-0.05,-0.05,-0.08,-0.05,-0.2,-0.15,-0.18,-0.08,-0.08],
[-0.05,-0.05,-0.05,-0.05,-0.05,-0.08,-0.05,0.05,-0.1,0.05,-0.05,-0.05,-0.1,-0.05,-0.05,-0.05,-0.05,-0.05,-0.05,-0.05,-0.02,-0.05,-0.05,-0.05,-0.05],
[-0.1,-0.1,-0.05,0.15,-0.05,-0.05,-0.05,-0.05,0.05,-0.05,-0.05,-0.05,-0.18,-0.05,-0.05,0.02,0.15,0.15,-0.05,-0.05,-0.05,-0.05,-0.2,-0.05,-0.05],
[-0.15,-0.08,-0.08,-0.05,-0.05,-0.05,-0.08,-0.08,0.12,-0.05,-0.05,-0.05,-0.05,-0.05,-0.05,-0.05,-0.05,-0.05,-0.05,-0.05,-0.05,-0.05,-0.05,-0.05,-0.05],
[-0.15,-0.05,-0.05,0.0,-0.05,0.08,-0.05,0.05,-0.05,-0.05,-0.15,-0.05,-0.05,0.05,-0.05,0.0,-0.05,-0.05,-0.05,-0.05,-0.05,-0.05,-0.05,-0.05,-0.05],
[-0.15,-0.18,-0.15,-0.05,-0.05,-0.05,-0.08,-0.08,-0.05,-0.05,-0.05,-0.05,-0.05,-0.05,-0.05,-0.05,-0.05,-0.05,-0.05,-0.05,-0.05,-0.05,-0.05,-0.05,-0.05],
[-0.05,-0.05,-0.05,-0.05,-0.05,-0.05,0.15,-0.05,-0.1,-0.05,-0.05,-0.05,-0.05,-0.05,-0.05,-0.05,-0.05,-0.05,-0.05,-0.05,0.05,0.1,-0.05,-0.18,-0.15],
[-0.05,-0.05,-0.05,0.12,-0.05,-0.05,-0.05,-0.05,-0.08,-0.2,-0.05,-0.05,-0.05,0.08,-0.05,-0.05,-0.05,-0.05,-0.05,-0.05,0.1,-0.05,-0.05,-0.05,-0.05],
[-0.05,-0.05,-0.05,-0.02,-0.05,-0.05,0.15,0.35,-0.08,-0.2,-0.05,-0.05,-0.05,0.05,-0.05,-0.05,-0.05,-0.05,-0.05,-0.05,-0.05,-0.05,-0.05,-0.05,-0.05],
[-0.1,-0.08,-0.1,0.15,-0.05,-0.05,0.02,0.15,-0.1,-0.18,-0.08,-0.08,-0.1,-0.02,-0.05,-0.05,-0.05,-0.12,-0.08,-0.08,0.0,-0.08,0.18,-0.08,-0.2],
[0.22,-0.02,0.12,0.0,-0.05,0.05,0.05,0.05,-0.2,-0.18,-0.1,-0.1,-0.15,-0.02,-0.08,-0.08,-0.1,-0.2,-0.05,-0.03,-0.08,-0.1,0.35,-0.08,-0.02],
[0.08,0.08,0.08,0.38,-0.05,-0.08,0.03,-0.05,-0.2,-0.1,-0.08,-0.08,-0.1,-0.02,-0.05,-0.05,-0.05,-0.08,-0.05,-0.05,-0.05,-0.08,-0.08,-0.05,-0.18]];
const hmStars=[
'***.*.*************.**.*.',
'*.**..*.*..*.*.......*..*',
'.*....*..*.......**......',
'.******.*..*........**...',
'.**...***................',
'***...********.*.*..*....',
'***********...*.....*..**',
'.***.*****.............*.',
'*****.*****.....*...*..**',
'**********.*........*..*.',
'******.***.*.............',
'*****.****..*..........**',
'*************..........*.',
'*..*.*****...*.*.........',
'.*.*.**.**.***.*....***..',
'.......*.................',
'...*........*...**....*..',
'*.......*................',
'*....*.*..*..*...........',
'***......................',
'......*..............*.**',
'...*.....*...*......*....',
'......**.*...*...........',
'...*...*.*............*.*',
'*.*.....**..*....*....*..',
'...*....*...............*'];
const cbTicks=[0.8,0.6,0.4,0.2,0,-0.2,-0.4];
const cbTickLabels=['0.8','0.6','0.4','0.2','0','\u22120.2','\u22120.4'];
const cbDomain=[-0.447,0.89];
</script>
<script>
// ---------------- DRAWING ----------------
const NS='http://www.w3.org/2000/svg';
const svg=document.getElementById('fig');
function mk(tag,attrs,parent){const e=document.createElementNS(NS,tag);for(const k in attrs)e.setAttribute(k,attrs[k]);(parent||svg).appendChild(e);return e;}
function txt(str,attrs,parent){const e=mk('text',attrs,parent);e.textContent=str;return e;}

const panels=[
 {id:'a',letter:'A',lx:1,ly:17,box:[58,17,331,261],xp:[122.5,316],yr:[0,244.5,0.05,28.3],ticks:aTicks,tl:aTickLabels,pts:aPts,zeros:aZeros,fit:aFit,ci:aCI,title:'B.cells.memory',tx:23,p:'p=1e\u221204',r:'R=0.22'},
 {id:'b',letter:'B',lx:346,ly:17,box:[396,17,673,261],xp:[459,659],yr:[0,244.5,0.4,25],ticks:bTicks,tl:bTickLabels,pts:bPts,zeros:bZeros,fit:bFit,ci:bCI,title:'Plasma.cells',tx:363,p:'p=0.0042',r:'R= \u22120.16'},
 {id:'c',letter:'C',lx:688,ly:17,box:[741,17,1013,261],xp:[804,1003],yr:[0,232.5,0.5,34.6],ticks:cTicks,tl:cTickLabels,pts:cPts,zeros:cZeros,fit:cFit,ci:cCI,title:'T.cells.CD8',tx:702,p:'p= 2.8e\u221208',r:'R=\u2212 0.31'},
 {id:'d',letter:'D',lx:1036,ly:17,box:[1087,17,1358,261],xp:[1148,1343],yr:[0,243.5,0.08,19.5],ticks:dTicks,tl:dTickLabels,pts:dPts,zeros:dZeros,fit:dFit,ci:dCI,title:'T.cells.CD4.naive',tx:1043,p:'p= 0.037',r:'R= 0.12'},
 {id:'e',letter:'E',lx:1,ly:289,box:[58,296,331,540],xp:[123,319],yr:[0,512,0.1,360.8],ticks:eTicks,tl:eTickLabels,pts:ePts,zeros:eZeros,fit:eFit,ci:eCI,title:'T.cells.CD4.memory.activated',tx:22,p:'p=0.021',r:'R=\u22120.13'},
 {id:'f',letter:'F',lx:346,ly:289,box:[399,296,672,540],xp:[464,660],yr:[0,506,0.15,299],ticks:fTicks,tl:fTickLabels,pts:fPts,zeros:fZeros,fit:fFit,ci:fCI,title:'T.cells.gamma.delta',tx:362,p:'p=0.00085',r:'R=\u22120.19'},
 {id:'g',letter:'G',lx:688,ly:289,box:[740,296,1015,540],xp:[804,1003],yr:[0,529,0.6,310.6],ticks:gTicks,tl:gTickLabels,pts:gPts,zeros:gZeros,fit:gFit,ci:gCI,title:'Macrophages.M0',tx:701,p:'p=5.4e\u221211',r:'R= 0.36'},
 {id:'h',letter:'H',lx:1036,ly:289,box:[1087,296,1358,540],xp:[1152,1348],yr:[0,529.6,0.2,341],ticks:hTicks,tl:hTickLabels,pts:hPts,zeros:hZeros,fit:hFit,ci:hCI,title:'Macrophages.M1',tx:1046,p:'p=  0.003',r:'R=\u22120.17'},
 {id:'i',letter:'I',lx:1,ly:571,box:[60,578,336,823],xp:[125,324],yr:[0,812,0.5,594],ticks:iTicks,tl:iTickLabels,pts:iPts,zeros:iZeros,fit:iFit,ci:iCI,title:'Macrophages.M2',tx:30,p:'p =0.046',r:'R=  0.11'},
 {id:'j',letter:'J',lx:346,ly:571,box:[400,577,673,823],xp:[465,661],yr:[0,801.5,0.02,637],ticks:jTicks,tl:jTickLabels,pts:jPts,zeros:jZeros,fit:jFit,ci:jCI,title:'Eosinophils',tx:363,p:'p=0.046',r:'R=0.11'},
 {id:'k',letter:'K',lx:688,ly:571,box:[738,577,1012,823],xp:[804,997],yr:[0,770.5,7500,619],ticks:kTicks,tl:kTickLabels,pts:kPts,zeros:kZeros,fit:kFit,ci:kCI,title:'ESTIMATEScore',tx:695,p:'p=0.0082',r:'R=\u22120.15'},
 {id:'l',letter:'L',lx:1036,ly:571,box:[1087,578,1358,823],xp:[1151,1346],yr:[0,797,6000,580.5],ticks:lTicks,tl:lTickLabels,pts:lPts,zeros:lZeros,fit:lFit,ci:lCI,title:'ImmuneScore',tx:1046,p:'p=0.003',r:'R=\u22120.17'}
];

panels.forEach(P=>{
  const [x0,y0,x1,y1]=P.box;
  const sx=v=>P.xp[0]+(v+1)*(P.xp[1]-P.xp[0])/3;
  const sy=v=>P.yr[1]+(v-P.yr[0])*(P.yr[3]-P.yr[1])/(P.yr[2]-P.yr[0]);
  const g=mk('g',{});
  
  
  const clipId='clip'+P.id;
  const cp=mk('clipPath',{id:clipId},g);
  mk('rect',{x:x0,y:y0,width:x1-x0,height:y1-y0},cp);
  const bg=mk('rect',{x:x0,y:y0,width:x1-x0,height:y1-y0,fill:'#EBEBEB'},g);
  
  
  const grid=mk('g',{'clip-path':'url(#'+clipId+')',stroke:'#fff'},g);
  
  
  [-2,-1,0,1,2,3].forEach(v=>{mk('line',{x1:sx(v),x2:sx(v),y1:y0,y2:y1,'stroke-width':1.6},grid);mk('line',{x1:sx(v+0.5),x2:sx(v+0.5),y1:y0,y2:y1,'stroke-width':0.8},grid);});
  const tk=P.ticks, step=tk[1]-tk[0];
  for(let i=-1;i<=tk.length;i++){const v=tk[0]+i*step;mk('line',{x1:x0,x2:x1,y1:sy(v),y2:sy(v),'stroke-width':1.6},grid);mk('line',{x1:x0,x2:x1,y1:sy(v+step/2),y2:sy(v+step/2),'stroke-width':0.8},grid);}
  const pg=mk('g',{'clip-path':'url(#'+clipId+')',fill:'#000'},g);
  
  
  P.pts.forEach(p=>{const c=mk('circle',{cx:sx(p[0]),cy:sy(p[1]),r:2.4},pg);
    
    });
  P.zeros.forEach(x=>{const c=mk('circle',{cx:sx(x),cy:sy(0),r:2.4},pg);
    
    });
  const [fx0,fy0,fx1,fy1]=P.fit; const xm=-0.3;
  const fy=x=>fy0+(x-fx0)*(fy1-fy0)/(fx1-fx0);
  const kl=(P.ci[0]**2-P.ci[1]**2)/((fx0-xm)**2), kr=(P.ci[2]**2-P.ci[1]**2)/((fx1-xm)**2);
  const hw=x=>Math.sqrt(P.ci[1]**2+(x<xm?kl:kr)*(x-xm)**2);
  const up=[],lo=[];
  for(let i=0;i<=30;i++){const x=fx0+(fx1-fx0)*i/30;up.push(sx(x)+','+sy(fy(x)+hw(x)));lo.unshift(sx(x)+','+sy(fy(x)-hw(x)));}
  const band=mk('polygon',{points:up.concat(lo).join(' '),fill:'#999999','fill-opacity':0.45,'clip-path':'url(#'+clipId+')'},g);
  
  
  const ln=mk('line',{x1:sx(fx0),y1:sy(fy0),x2:sx(fx1),y2:sy(fy1),stroke:'#3366FF','stroke-width':5.2,'clip-path':'url(#'+clipId+')'},g);
  
  
  const bd=mk('rect',{x:x0,y:y0,width:x1-x0,height:y1-y0,fill:'none',stroke:'#111','stroke-width':1.6},g);
  
  
  tk.forEach((v,i)=>{const y=sy(v); if(y<y0-1||y>y1+1)return;
    mk('line',{x1:x0-2.5,x2:x0,y1:y,y2:y,stroke:'#333','stroke-width':0.8},g);
    const t=txt(P.tl[i],{x:x0-3.5,y:y+3.8,'text-anchor':'end','font-size':10.5,fill:'#4d4d4d'},g);
    
    });
  xTickVals.forEach((v,i)=>{const x=sx(v);
    mk('line',{x1:x,x2:x,y1:y1,y2:y1+2.5,stroke:'#333','stroke-width':0.8},g);
    const t=txt(xTickLabels[i],{x:x,y:y1+13,'text-anchor':'middle','font-size':10.5,fill:'#4d4d4d'},g);
    
    });
  const xt=txt('S score',{x:(x0+x1)/2+2,y:y1+25,'text-anchor':'middle','font-size':11,fill:'#000'},g);
  
  
  const yc=(y0+y1)/2;
  const yt=txt(P.title,{x:P.tx+4,y:yc,'text-anchor':'middle','font-size':11,fill:'#000',transform:'rotate(-90 '+(P.tx+4)+' '+yc+')'},g);
  
  
  const pt=txt(P.p,{x:x1-12,y:y0+15,'text-anchor':'end','font-size':11,fill:'#000'},g);
  
  
  const rt=txt(P.r,{x:x1-12,y:y0+32,'text-anchor':'end','font-size':11,fill:'#000'},g);
  
  
  const lt=txt(P.letter,{x:P.lx,y:P.ly,'font-size':18,'font-weight':'bold',fill:'#000'},g);
  
  
});

// ---- heatmap ----
const stops=[[-0.45,[26,111,207]],[-0.2,[94,159,224]],[0,[166,205,238]],[0.2,[238,252,252]],[0.4,[233,211,212]],[0.6,[224,133,133]],[0.89,[204,0,0]]];
function col(v){if(v<=stops[0][0])return 'rgb('+stops[0][1]+')';
  for(let i=1;i<stops.length;i++){if(v<=stops[i][0]){const a=stops[i-1],b=stops[i],t=(v-a[0])/(b[0]-a[0]);
    return 'rgb('+a[1].map((c,j)=>Math.round(c+(b[1][j]-c)*t)).join(',')+')';}}
  return 'rgb('+stops[stops.length-1][1]+')';}
const HX0=74.2,HX1=1094.7,HY0=872.7,HY1=1431.2;
const cw=(HX1-HX0)/hmCols.length, ch=(HY1-HY0)/hmRows.length;
const hm=mk('g',{});


const ml=txt('M',{x:1,y:866,'font-size':18,'font-weight':'bold',fill:'#000'},hm);


mk('rect',{x:HX0,y:HY0,width:HX1-HX0,height:HY1-HY0,fill:'#9a9a9a'},hm);
hmRows.forEach((rn,r)=>{
  hmCols.forEach((cn,c)=>{
    const v=hmVals[r][c];
    const cell=mk('rect',{x:HX0+c*cw,y:HY0+r*ch,width:cw,height:ch,fill:col(v),stroke:'#9a9a9a','stroke-width':1.7},hm);
    
    
    if((hmStars[r]||'')[c]==='*'){
      const s=txt('*',{x:HX0+c*cw+cw/2,y:HY0+r*ch+11,'text-anchor':'middle','font-size':10,fill:'#444'},hm);
      
      
    }
  });
  const t=txt(rn,{x:HX1+4,y:HY0+r*ch+ch/2+7,'font-size':11,fill:'#000'},hm);
  
  
});
hmCols.forEach((cn,c)=>{
  const x=HX0+c*cw+cw/2-7, y=HY1+9;
  const t=txt(cn,{x:x,y:y,'font-size':11,fill:'#000',transform:'rotate(58 '+x+' '+y+')'},hm);
  
  
});
// legend
const lg=mk('g',{});


const ltitle=txt('Correlation coefficient',{x:1191,y:884,'font-size':14,fill:'#000'},lg);


const defs=mk('defs',{},lg);
const grad=mk('linearGradient',{id:'cbg',x1:0,y1:1,x2:0,y2:0},defs);
stops.forEach(s=>{const o=(s[0]-cbDomain[0])/(cbDomain[1]-cbDomain[0]);mk('stop',{offset:Math.max(0,Math.min(1,o)),'stop-color':'rgb('+s[1]+')'},grad);});
const CBY0=906,CBY1=1076;
const cby=v=>CBY1-(v-cbDomain[0])/(cbDomain[1]-cbDomain[0])*(CBY1-CBY0);
const cb=mk('rect',{x:1195,y:CBY0,width:20,height:CBY1-CBY0,fill:'url(#cbg)'},lg);


cbTicks.forEach((v,i)=>{
  const t=txt(cbTickLabels[i],{x:1223,y:cby(v)+4,'font-size':11,fill:'#000'},lg);
  
  
});
</script>
</body></html>
